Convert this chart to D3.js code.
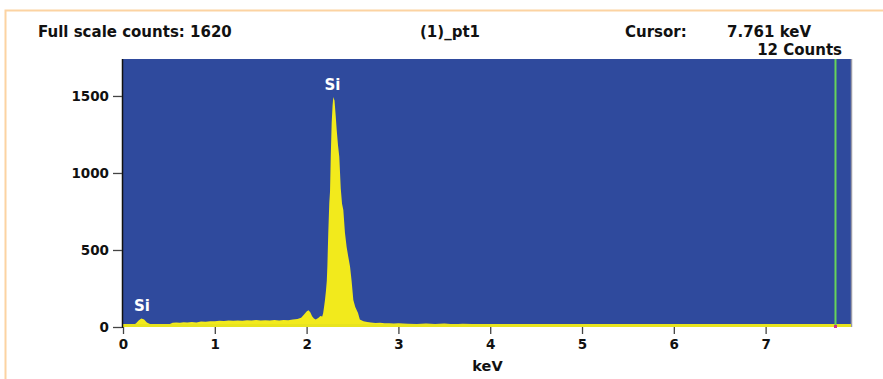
<!DOCTYPE html>
<html>
<head>
<meta charset="utf-8">
<script src="https://cdn.jsdelivr.net/npm/d3@7"></script>
<style>
  body { margin: 0; background: #fff; }
  svg { display: block; }
  text { font-family: "DejaVu Sans", Verdana, sans-serif; font-weight: bold; }
</style>
</head>
<body>
<svg id="chart" width="883" height="379"></svg>
<script>
// spectrum: energy (keV) and counts
var energies = [0.00,0.05,0.10,0.14,0.17,0.20,0.23,0.26,0.30,0.34,0.38,0.42,0.46,0.50,0.54,0.58,0.62,0.66,0.70,0.75,
  0.80,0.85,0.90,0.95,1.00,1.05,1.10,1.15,1.20,1.25,1.30,1.35,1.40,1.45,1.50,1.55,1.60,1.65,1.70,1.75,
  1.80,1.85,1.90,1.94,1.97,2.00,2.02,2.04,2.06,2.08,2.10,2.13,2.15,2.17,2.18,2.19,2.20,2.21,2.22,2.226,
  2.236,2.247,2.255,2.263,2.273,2.283,2.291,2.298,2.304,2.316,2.328,2.342,2.356,2.372,2.386,2.400,2.418,2.436,2.454,2.473,
  2.49,2.509,2.53,2.56,2.58,2.62,2.66,2.70,2.75,2.80,2.85,2.90,2.95,3.00,3.10,3.20,3.30,3.40,3.50,3.60,
  3.70,3.80,3.90,4.00,4.10,4.20,4.30,4.40,4.50,4.60,4.70,4.80,4.90,5.00,5.10,5.20,5.30,5.40,5.50,5.60,
  5.70,5.80,5.90,6.00,6.10,6.20,6.30,6.40,6.50,6.60,6.70,6.80,6.90,7.00,7.10,7.20,7.30,7.40,7.50,7.60,
  7.70,7.80,7.93];
var counts = [8,10,12,22,42,56,48,30,18,12,14,10,13,16,28,30,27,31,29,33,
  30,35,34,38,37,40,39,42,40,43,41,44,42,45,43,44,42,45,43,46,
  44,48,52,60,80,100,108,95,70,55,48,60,72,68,90,130,175,230,300,392,
  610,805,880,1106,1325,1440,1494,1480,1470,1380,1279,1180,1106,900,800,760,610,520,456,392,
  300,175,130,91,48,38,32,30,26,28,24,25,22,24,21,19,23,20,22,18,
  21,20,17,19,16,18,15,17,14,13,12,14,11,15,12,10,13,11,12,10,
  11,13,10,12,11,10,12,11,10,12,10,11,10,12,11,10,11,10,12,11,
  12,10,11];

var xTicks = [0,1,2,3,4,5,6,7];
var yTicks = [0,500,1000,1500];
var cursorKeV = 7.761;
var peakLabels = [{e: 2.282, c: 1494, name: "Si"}, {e: 0.207, c: 56, name: "Si"}];

(function() {
  var svg = d3.select("#chart");
  var left = 123, right = 851, plotTop = 59, bottom = 327;

  var x = d3.scaleLinear().domain([0, 7.93]).range([left, right]);
  var y = d3.scaleLinear().domain([0, 1740]).range([bottom, plotTop]);

  // orange frame around the panel
  svg.append("rect")
    .attr("x", 5.5).attr("y", 10.5).attr("width", 900).attr("height", 400)
    .attr("fill", "none").attr("stroke", "#fcd3a2").attr("stroke-width", 2);

  // plot background
  svg.append("rect")
    .attr("x", left).attr("y", plotTop).attr("width", right - left).attr("height", bottom - plotTop)
    .attr("fill", "#2f4a9d");
  svg.append("line")
    .attr("x1", right + 0.5).attr("x2", right + 0.5).attr("y1", plotTop).attr("y2", bottom)
    .attr("stroke", "#9a9aa8").attr("stroke-width", 1.5);

  var pts = energies.map(function(e, i) { return [e, counts[i]]; });

  var area = d3.area()
    .x(function(d) { return x(d[0]); })
    .y0(bottom)
    .y1(function(d) { return y(d[1]); });

  svg.append("path")
    .datum(pts)
    .attr("d", area)
    .attr("fill", "#f2ea1c");

  // yellow base strip
  svg.append("rect")
    .attr("x", left).attr("y", bottom - 3).attr("width", right - left).attr("height", 3)
    .attr("fill", "#e8e41e");

  // cursor line
  svg.append("line")
    .attr("x1", x(cursorKeV)).attr("x2", x(cursorKeV)).attr("y1", plotTop).attr("y2", bottom)
    .attr("stroke", "#66d35a").attr("stroke-width", 2);
  svg.append("rect")
    .attr("x", x(cursorKeV) - 1.5).attr("y", bottom - 2).attr("width", 3).attr("height", 3)
    .attr("fill", "#d0308a");

  // left axis line
  svg.append("line")
    .attr("x1", left - 0.5).attr("x2", left - 0.5).attr("y1", plotTop).attr("y2", bottom + 1)
    .attr("stroke", "#111").attr("stroke-width", 1.5);

  // y axis
  var yAxis = svg.append("g")
    .attr("transform", "translate(" + (left - 1) + ",0)")
    .call(d3.axisLeft(y).tickValues(yTicks).tickSize(9).tickPadding(4).tickFormat(d3.format("d")));
  yAxis.select(".domain").remove();
  yAxis.selectAll("line").attr("stroke", "#444").attr("stroke-width", 1.3);
  yAxis.selectAll("text").attr("font-size", 13.5).attr("fill", "#111")
    .attr("font-family", "DejaVu Sans, Verdana, sans-serif").attr("font-weight", "bold");

  // x axis
  var xAxis = svg.append("g")
    .attr("transform", "translate(0," + bottom + ")")
    .call(d3.axisBottom(x).tickValues(xTicks).tickSize(7).tickPadding(5).tickFormat(d3.format("d")));
  xAxis.select(".domain").remove();
  xAxis.selectAll("line").attr("stroke", "#444").attr("stroke-width", 1.3);
  xAxis.selectAll("text").attr("font-size", 13.5).attr("fill", "#111")
    .attr("font-family", "DejaVu Sans, Verdana, sans-serif").attr("font-weight", "bold");

  svg.append("text")
    .attr("x", x(3.97)).attr("y", 371).attr("text-anchor", "middle")
    .attr("font-size", 14.5).attr("fill", "#111").text("keV");

  // peak labels
  svg.selectAll(".peak").data(peakLabels).enter().append("text")
    .attr("class", "peak")
    .attr("x", function(d) { return x(d.e); })
    .attr("y", function(d) { return y(d.c) - 7; })
    .attr("text-anchor", "middle")
    .attr("font-size", 15).attr("fill", "#fff")
    .text(function(d) { return d.name; });

  // header
  var head = svg.append("g").attr("font-size", 15).attr("fill", "#111");
  head.append("text").attr("x", 38).attr("y", 37).text("Full scale counts: 1620");
  head.append("text").attr("x", 420).attr("y", 37).text("(1)_pt1");
  head.append("text").attr("x", 625).attr("y", 37).text("Cursor:");
  head.append("text").attr("x", 727).attr("y", 37).text(cursorKeV + " keV");
  head.append("text").attr("x", 842).attr("y", 55).attr("text-anchor", "end").text("12 Counts");
})();
</script>
</body>
</html>
